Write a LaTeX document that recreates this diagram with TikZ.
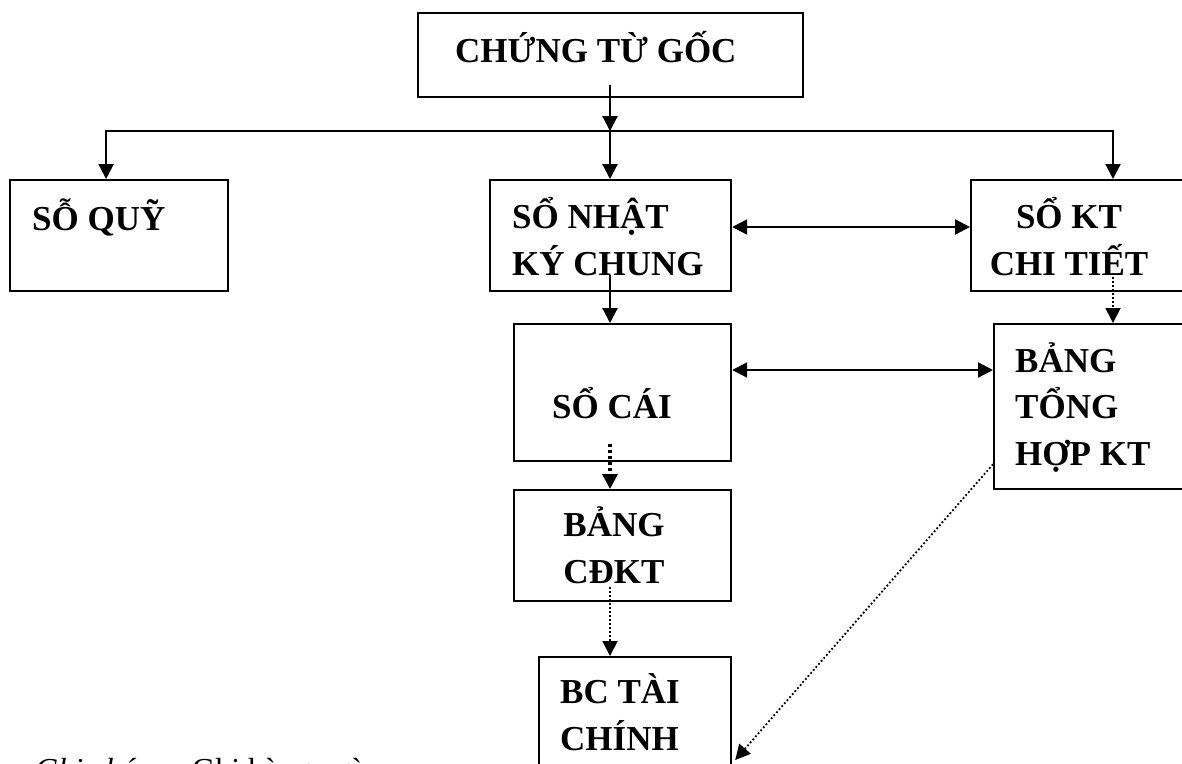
\documentclass[tikz,border=0pt]{standalone}
\usepackage{fontspec}
\setmainfont{Liberation Serif}
\usetikzlibrary{arrows.meta,calc}

\tikzset{
  box/.style={draw, line width=2.2pt, inner sep=0pt, anchor=north west},
  % multi-line labels are placed by the baseline of their last line
  lbl/.style={inner sep=0pt, anchor=base west, align=left,
    font=\fontsize{35}{46.5}\selectfont\bfseries},
  clbl/.style={lbl, anchor=base, align=center},
  legend/.style={inner sep=0pt, anchor=base west, font=\fontsize{32}{38}\selectfont},
  tip/.tip={Triangle[length=15pt,width=15pt]},
  arr/.style={line width=2.2pt, -tip},
  darr/.style={line width=2.2pt, tip-tip},
  fdot/.style={arr, line width=1.8pt, dash pattern=on 1.8pt off 2.2pt},
  bdot/.style={arr, line width=3.3pt, dash pattern=on 3pt off 3pt},
}

\begin{document}
\begin{tikzpicture}[x=1pt, y=-1pt]
\useasboundingbox (0,0) rectangle (1182,763);
\clip (0,0) rectangle (1182,763);

% boxes
\node[box, minimum width=385pt, minimum height=84pt]  (goc)   at (417,12)  {};
\node[box, minimum width=218pt, minimum height=111pt] (quy)   at (9,179)   {};
\node[box, minimum width=241pt, minimum height=111pt] (nkc)   at (489,179) {};
\node[box, minimum width=230pt, minimum height=111pt] (ktct)  at (970,179) {};
\node[box, minimum width=217pt, minimum height=137pt] (socai) at (513,323) {};
\node[box, minimum width=210pt, minimum height=165pt] (bth)   at (993,323) {};
\node[box, minimum width=217pt, minimum height=111pt] (cdkt)  at (513,489) {};
\node[box, minimum width=192pt, minimum height=130pt] (bctc)  at (538,656) {};

% box texts
\node[lbl]  (goc-t)   at (455,62)   {CHỨNG TỪ GỐC};
\node[lbl]  (quy-t)   at (32,230)   {SỖ QUỸ};
\node[lbl]  (nkc-t)   at (512,275)  {SỔ NHẬT\\KÝ CHUNG};
\node[clbl] (ktct-t)  at (1069,275) {SỔ KT\\CHI TIẾT};
\node[lbl]  (bth-t)   at (1015,465) {BẢNG\\TỔNG\\HỢP KT};
\node[lbl]  (socai-t) at (552,418)  {SỔ CÁI};
\node[clbl] (cdkt-t)  at (614,583)  {BẢNG\\CĐKT};
\node[lbl]  (bctc-t)  at (560,750)  {BC TÀI\\CHÍNH};

% distribution bus under the source documents
\coordinate (bus) at (610,131);
\draw[arr] ($(goc.south -| bus)+(0,-13)$) -- (bus);
\draw[arr] (bus) -- (bus |- nkc.north);
\draw[arr] (bus) -| ($(quy.north)+(-13,0)$);
\draw[arr] (bus) -| ($(ktct.north west)+(143,0)$);

% journal flow
\draw[arr]  ($(bus |- nkc.south)+(0,-17)$) -- (bus |- socai.north);
\draw[darr] ($(nkc.north east)+(0,48)$) -- ($(ktct.north west)+(0,48)$);
\draw[fdot] ($(ktct.north west)+(143,94)$) -- ($(bth.north west)+(120,0)$);
\draw[darr] ($(socai.north east)+(0,47)$) -- ($(bth.north west)+(0,47)$);
\draw[bdot] ($(bus |- socai.south)+(0,-18)$) -- (bus |- cdkt.north);
\draw[fdot] ($(bus |- cdkt.south)+(0,-15)$) -- (bus |- bctc.north);
\draw[fdot] ($(bth.south west)+(0,-26)$) -- ($(bctc.north east)+(3,104)$);

% legend
\node[legend, font=\fontsize{32}{38}\selectfont\itshape] (key) at (35,780) {Ghi chú:};
\node[legend] (key-t) at (192,780) {Ghi hàng ngày};
\end{tikzpicture}
\end{document}
